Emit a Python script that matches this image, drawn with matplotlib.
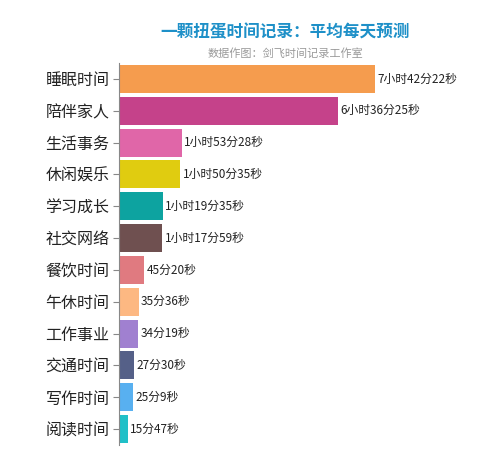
import matplotlib
matplotlib.use("Agg")
import matplotlib.pyplot as plt

plt.rcParams['font.family'] = ['Noto Sans CJK SC', 'DejaVu Sans']

categories = ["睡眠时间","陪伴家人","生活事务","休闲娱乐","学习成长","社交网络",
              "餐饮时间","午休时间","工作事业","交通时间","写作时间","阅读时间"]
seconds = [27742, 23785, 6808, 6635, 4775, 4679, 2720, 2136, 2059, 1650, 1509, 947]
labels = ["7小时42分22秒","6小时36分25秒","1小时53分28秒","1小时50分35秒","1小时19分35秒",
          "1小时17分59秒","45分20秒","35分36秒","34分19秒","27分30秒","25分9秒","15分47秒"]
colors = ["#F59C4E","#C5428A","#E066A8","#E0CC10","#0DA3A0","#6F5050",
          "#E07A80","#FDB882","#A080D0","#556088","#58B0F0","#20C0C8"]

fig = plt.figure(figsize=(4.87, 4.58), dpi=100)
ax = fig.add_axes([119/487, 1-445/458, 321/487, (445-63)/458])
y = list(range(len(categories)))
ax.barh(y, seconds, height=0.88, color=colors)
for yi, v, t in zip(y, seconds, labels):
    ax.text(v + 250, yi, t, va='center', ha='left', fontsize=8.5, color='#222222')
ax.set_yticks(y)
ax.set_yticklabels(categories, fontsize=11.5, color='#222222')
ax.set_ylim(len(categories)-0.5, -0.5)
ax.set_xlim(0, 27742*321/256)
ax.set_xticks([])
for s in ['top','right','bottom']:
    ax.spines[s].set_visible(False)
ax.spines['left'].set_color('#888888')
ax.tick_params(axis='y', length=4, color='#888888', pad=3)

fig.text(285/487, 1-32/458, "一颗扭蛋时间记录：平均每天预测", ha='center', va='center',
         fontsize=12, fontweight='bold', color='#1E90C8')
fig.text(285/487, 1-54/458, "数据作图：剑飞时间记录工作室", ha='center', va='center',
         fontsize=8, color='#999999')
fig.savefig("out.png", dpi=100)
